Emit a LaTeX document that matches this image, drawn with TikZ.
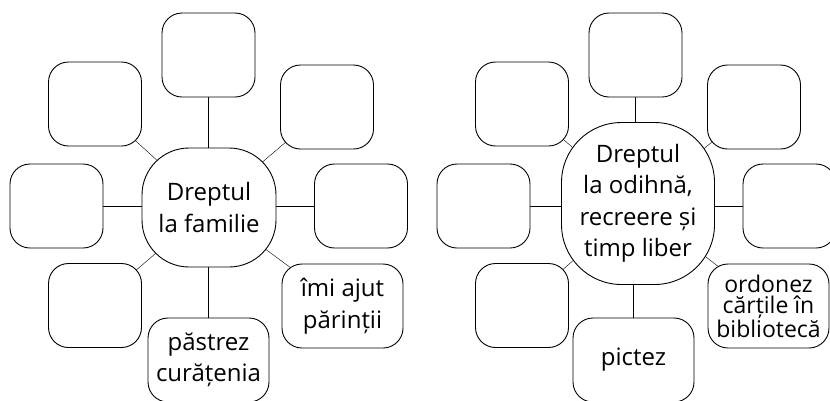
\documentclass[tikz,border=0pt]{standalone}
\usepackage{fontspec}
\setmainfont{Open Sans}
\usetikzlibrary{backgrounds}

\begin{document}
\begin{tikzpicture}[x=1pt,y=-1pt,line width=0.9pt,
    box/.style={draw,fill=white,rounded corners=20pt,minimum width=93pt,minimum height=84pt,
      align=center,inner sep=0pt,font=\fontsize{24}{31.5}\selectfont},
    wide/.style={box,minimum width=121pt},
    hub/.style={box,rounded corners=47pt}]
\useasboundingbox (0,0) rectangle (830,400);
% Dreptul la familie
    \begin{scope}[shift={(0,0)}]
        \node[hub,minimum width=134pt,minimum height=119pt] (fam) at (209,207.5) {Dreptul\\la familie};
        \foreach \n/\x/\y in {famt/208.5/55, famul/95/104, famur/327/107, faml/56.5/206, famr/361/206, famll/95/305.5} {
            \node[box] (\n) at (\x,\y) {};
        }
        \node[wide] (famb) at (208.5,360) {păstrez\\curățenia};
        \node[wide] (famlr) at (342.5,306) {îmi ajut\\părinții};
        \begin{scope}[on background layer]
            \foreach \n in {famul,famur,famll,famlr} {
                \draw (\n.center) -- (fam.center);
            }
            \draw (famt.center) -- (famt |- fam);
            \draw (famb.center) -- (famb |- fam);
            \draw (faml.center) -- (faml -| fam);
            \draw (famr.center) -- (famr -| fam);
        \end{scope}
    \end{scope}
% Dreptul la odihna, recreere si timp liber
    \begin{scope}[shift={(427,0)}]
        \node[hub,rounded corners=60pt,minimum width=153pt,minimum height=162pt] (odi) at (211,203.5) {Dreptul\\la odihnă,\\recreere și\\timp liber};
        \foreach \n/\x/\y in {odit/208.5/55, odiul/95/104, odiur/327/107, odil/56.5/206, odir/362.5/206, odill/95/305.5} {
            \node[box] (\n) at (\x,\y) {};
        }
        \node[wide] (odib) at (206.5,360) {pictez};
        \node[wide,font=\fontsize{23}{21.5}\selectfont] (odilr) at (341.5,306) {ordonez\\cărțile în\\bibliotecă};
        \begin{scope}[on background layer]
            \foreach \n in {odiul,odiur,odill,odilr} {
                \draw (\n.center) -- (odi.center);
            }
            \draw (odit.center) -- (odit |- odi);
            \draw (odib.center) -- (odib |- odi);
            \draw (odil.center) -- (odil -| odi);
            \draw (odir.center) -- (odir -| odi);
        \end{scope}
    \end{scope}
\end{tikzpicture}
\end{document}
